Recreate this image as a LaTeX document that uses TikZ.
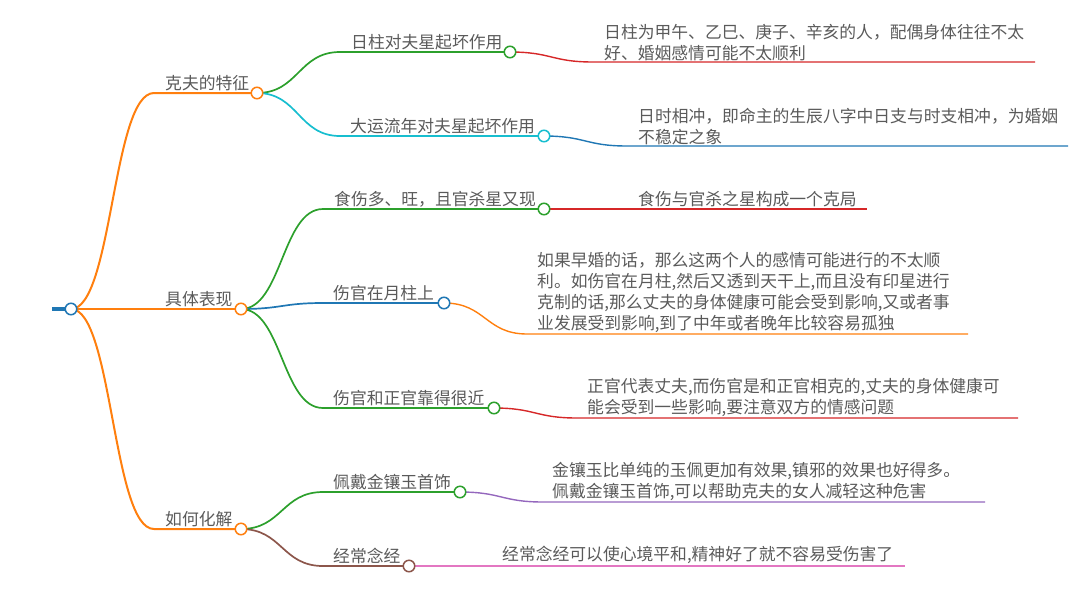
\documentclass[tikz,border=0pt]{standalone}
\usepackage{fontspec}
\setmainfont{Noto Sans CJK SC}
\definecolor{cBlue}{HTML}{1F77B4}
\definecolor{cOrange}{HTML}{FF7F0E}
\definecolor{cGreen}{HTML}{2CA02C}
\definecolor{cRed}{HTML}{D62728}
\definecolor{cPurple}{HTML}{9467BD}
\definecolor{cBrown}{HTML}{8C564B}
\definecolor{cPink}{HTML}{E377C2}
\definecolor{cCyan}{HTML}{17BECF}
\definecolor{txtgray}{HTML}{5A5A5A}
\newcommand{\mmlink}[4]{%
  \path (#2) -- coordinate[midway] (mid) (#3);
  \draw[#1] (#2) .. controls (mid |- #2) and (mid |- #3) .. (#3) -- (#4);
}
\tikzset{
  lbl/.style={font=\fontsize{16.8}{21}\selectfont, text=txtgray, inner sep=0pt, anchor=south west, align=left},
  dot/.style={circle, draw=#1, fill=white, line width=1.5pt, minimum size=11.5pt, inner sep=0pt},
  lvA/.style={draw=#1, line width=2pt},
  lvB/.style={draw=#1, line width=1.7pt},
  lvC/.style={draw=#1, line width=1.4pt},
}
\begin{document}
\begin{tikzpicture}[x=1pt,y=-1pt]
\useasboundingbox (0,0) rectangle (1083,590);
% circle centres
\coordinate (pR) at (71,309);
\coordinate (stub) at (52,309);
\coordinate (pKF) at (257,93);
\coordinate (pJT) at (241,309);
\coordinate (pRH) at (241,529);
\coordinate (pRZ) at (510,52);
\coordinate (pDY) at (544,136);
\coordinate (pSS) at (544,209);
\coordinate (pYZ) at (444,303);
\coordinate (pZG) at (494,408);
\coordinate (pPD) at (460,492);
\coordinate (pNJ) at (409,566);
% line starts
\coordinate (sKF) at (154,93);
\coordinate (sJT) at (154,309);
\coordinate (sRH) at (154,529);
\coordinate (sRZ) at (340,52);
\coordinate (sDY) at (340,136);
\coordinate (sSS) at (323,209);
\coordinate (sYZ) at (323,303);
\coordinate (sZG) at (323,408);
\coordinate (sPD) at (323,492);
\coordinate (sNJ) at (323,566);
% description lines
\coordinate (dRZs) at (593,62);   \coordinate (dRZe) at (1035,62);
\coordinate (dDYs) at (627,146);  \coordinate (dDYe) at (1068,146);
\coordinate (dSSs) at (627,209);  \coordinate (dSSe) at (867,209);
\coordinate (dYZs) at (527,334);  \coordinate (dYZe) at (968,334);
\coordinate (dZGs) at (577,418);  \coordinate (dZGe) at (1018,418);
\coordinate (dPDs) at (543,502);  \coordinate (dPDe) at (985,502);
\coordinate (dNJs) at (492,566);  \coordinate (dNJe) at (905,566);

% root stub
\draw[cBlue, line width=4pt] (stub) -- (pR);
% level 1
\mmlink{lvA=cOrange}{pR}{sKF}{pKF}
\mmlink{lvA=cOrange}{pR}{sJT}{pJT}
\mmlink{lvA=cOrange}{pR}{sRH}{pRH}
% level 2
\mmlink{lvB=cGreen}{pKF}{sRZ}{pRZ}
\mmlink{lvB=cCyan}{pKF}{sDY}{pDY}
\mmlink{lvB=cGreen}{pJT}{sSS}{pSS}
\mmlink{lvB=cBlue}{pJT}{sYZ}{pYZ}
\mmlink{lvB=cGreen}{pJT}{sZG}{pZG}
\mmlink{lvB=cGreen}{pRH}{sPD}{pPD}
\mmlink{lvB=cBrown}{pRH}{sNJ}{pNJ}
% descriptions
\mmlink{lvC=cRed}{pRZ}{dRZs}{dRZe}
\mmlink{lvC=cBlue}{pDY}{dDYs}{dDYe}
\mmlink{lvC=cRed}{pSS}{dSSs}{dSSe}
\mmlink{lvC=cOrange}{pYZ}{dYZs}{dYZe}
\mmlink{lvC=cRed}{pZG}{dZGs}{dZGe}
\mmlink{lvC=cPurple}{pPD}{dPDs}{dPDe}
\mmlink{lvC=cPink}{pNJ}{dNJs}{dNJe}

% circles
\node[dot=cBlue] (cR) at (pR) {};
\node[dot=cOrange] (cKF) at (pKF) {};
\node[dot=cOrange] (cJT) at (pJT) {};
\node[dot=cOrange] (cRH) at (pRH) {};
\node[dot=cGreen] (cRZ) at (pRZ) {};
\node[dot=cCyan] (cDY) at (pDY) {};
\node[dot=cGreen] (cSS) at (pSS) {};
\node[dot=cBlue] (cYZ) at (pYZ) {};
\node[dot=cGreen] (cZG) at (pZG) {};
\node[dot=cGreen] (cPD) at (pPD) {};
\node[dot=cBrown] (cNJ) at (pNJ) {};

% labels
\node[lbl] (tKF) at (165,91) {克夫的特征};
\node[lbl] (tJT) at (165,307) {具体表现};
\node[lbl] (tRH) at (165,527) {如何化解};
\node[lbl] (tRZ) at (351,50) {日柱对夫星起坏作用};
\node[lbl] (tDY) at (350,134) {大运流年对夫星起坏作用};
\node[lbl] (tSS) at (334,207) {食伤多、旺，且官杀星又现};
\node[lbl] (tYZ) at (333,301) {伤官在月柱上};
\node[lbl] (tZG) at (333,406) {伤官和正官靠得很近};
\node[lbl] (tPD) at (333,490) {佩戴金镶玉首饰};
\node[lbl] (tNJ) at (333,564) {经常念经};

\node[lbl] (xRZ) at (604,61) {日柱为甲午、乙巳、庚子、辛亥的人，配偶身体往往不太\\好、婚姻感情可能不太顺利};
\node[lbl] (xDY) at (638,145) {日时相冲，即命主的生辰八字中日支与时支相冲，为婚姻\\不稳定之象};
\node[lbl] (xSS) at (638,207) {食伤与官杀之星构成一个克局};
\node[lbl] (xYZ) at (537,333) {如果早婚的话，那么这两个人的感情可能进行的不太顺\\利。如伤官在月柱,然后又透到天干上,而且没有印星进行\\克制的话,那么丈夫的身体健康可能会受到影响,又或者事\\业发展受到影响,到了中年或者晚年比较容易孤独};
\node[lbl] (xZG) at (587,417) {正官代表丈夫,而伤官是和正官相克的,丈夫的身体健康可\\能会受到一些影响,要注意双方的情感问题};
\node[lbl] (xPD) at (552,501) {金镶玉比单纯的玉佩更加有效果,镇邪的效果也好得多。\\佩戴金镶玉首饰,可以帮助克夫的女人减轻这种危害};
\node[lbl] (xNJ) at (502,564) {经常念经可以使心境平和,精神好了就不容易受伤害了};
\end{tikzpicture}
\end{document}
